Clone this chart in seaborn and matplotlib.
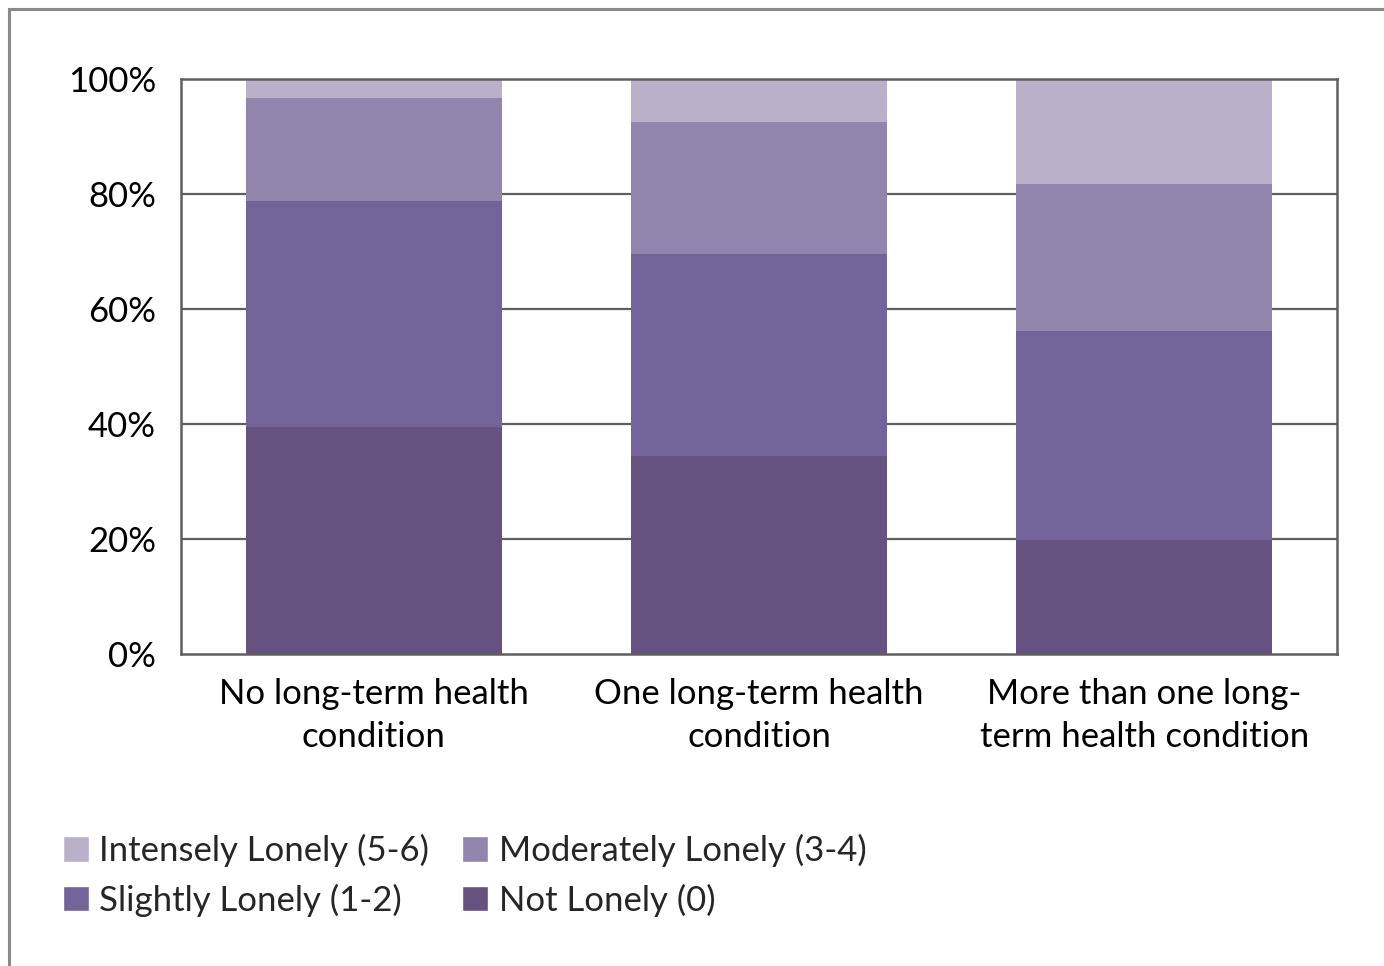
import numpy as np
import pandas as pd
import matplotlib
matplotlib.use("Agg")
import matplotlib.pyplot as plt
import seaborn as sns
from matplotlib.patches import Patch, Rectangle

categories = ["No long-term health\ncondition",
              "One long-term health\ncondition",
              "More than one long-\nterm health condition"]
not_lonely = [39.5, 34.4, 19.8]
slightly_lonely = [39.3, 35.2, 36.4]
moderately_lonely = [17.9, 22.9, 25.5]
intensely_lonely = [3.3, 7.5, 18.3]

series_names = ["Not Lonely (0)", "Slightly Lonely (1-2)",
                "Moderately Lonely (3-4)", "Intensely Lonely (5-6)"]
series_colors = ["#655281", "#726399", "#9285ad", "#b9b1c9"]

sns.set_theme(style="white")
plt.rcParams['font.family'] = ['Lato', 'DejaVu Sans']

df = pd.DataFrame({
    "category": categories,
    series_names[0]: not_lonely,
    series_names[1]: slightly_lonely,
    series_names[2]: moderately_lonely,
    series_names[3]: intensely_lonely,
})
cum = df[series_names].cumsum(axis=1)
cum["category"] = df["category"]

fig = plt.figure(figsize=(13.84, 9.66), dpi=100)
ax = fig.add_axes([181 / 1384, 1 - 654 / 966, (1337 - 181) / 1384, (654 - 79) / 966])

grid_col = "#5f5f5f"
for y in [20, 40, 60, 80]:
    ax.axhline(y, color=grid_col, lw=1.6, zorder=0)

# draw cumulative totals from the top down so each layer shows
for name, col in reversed(list(zip(series_names, series_colors))):
    sns.barplot(data=cum, x="category", y=name, color=col, width=0.665,
                saturation=1, ax=ax, zorder=2, linewidth=0)

ax.set_ylim(0, 100)
ax.set_xlim(-0.5, 2.5)
ax.set_yticks([0, 20, 40, 60, 80, 100])
ax.set_yticklabels([f"{v}%" for v in [0, 20, 40, 60, 80, 100]])
ax.set_xlabel("")
ax.set_ylabel("")
ax.tick_params(axis="both", length=0, labelsize=25, colors="black")
ax.tick_params(axis="y", pad=18)
ax.tick_params(axis="x", pad=17)
for lbl in ax.get_xticklabels():
    lbl.set_linespacing(1.42)
for sp in ax.spines.values():
    sp.set_visible(True)
    sp.set_color(grid_col)
    sp.set_linewidth(1.8)

handles = [Patch(facecolor=series_colors[3], label=series_names[3]),
           Patch(facecolor=series_colors[1], label=series_names[1]),
           Patch(facecolor=series_colors[2], label=series_names[2]),
           Patch(facecolor=series_colors[0], label=series_names[0])]
fig.legend(handles=handles, ncol=2, loc="upper left",
           bbox_to_anchor=(63 / 1384, 1 - 834 / 966), frameon=False,
           fontsize=25, handlelength=0.75, handleheight=0.75,
           handletextpad=0.3, columnspacing=0.95, labelspacing=0.47,
           borderpad=0, borderaxespad=0)

fig.patches.append(Rectangle((9 / 1384, -0.1), 1.2, 1 - 9 / 966 + 0.1,
                             transform=fig.transFigure, fill=False,
                             edgecolor="#8a8a8a", linewidth=2.2))

fig.savefig("out.png", dpi=100)
